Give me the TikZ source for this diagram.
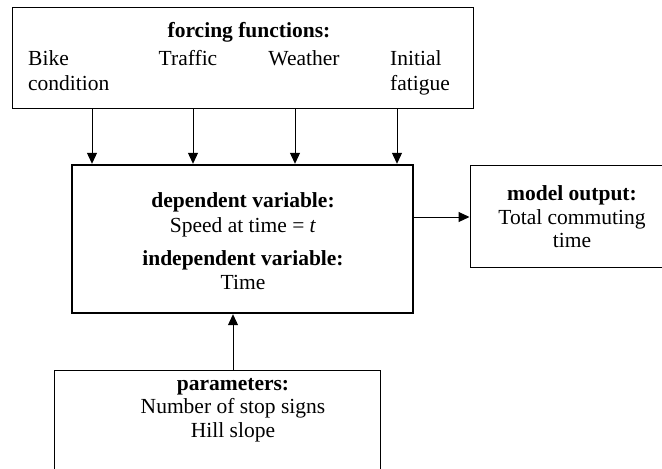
\documentclass[tikz,border=0pt]{standalone}
\usepackage{fontspec}
\setmainfont{Liberation Serif}
\usetikzlibrary{arrows.meta}
\begin{document}
\begin{tikzpicture}[x=1pt,y=-1pt,
  thinbox/.style={draw,line width=1pt,inner sep=0pt,rectangle},
  thickbox/.style={draw,line width=2.4pt,inner sep=0pt,rectangle},
  txt/.style={inner sep=0pt,anchor=base,font=\fontsize{21.5}{25}\selectfont},
  txtl/.style={txt,anchor=base west},
  arr/.style={line width=1pt,-{Triangle[width=10pt,length=11pt]}}]
\useasboundingbox (0,0) rectangle (662,469);
% boxes
\node[thinbox,minimum width=461pt,minimum height=101pt] (forcing) at (242.5,57.5) {};
\node[thickbox,minimum width=341pt,minimum height=148pt] (main) at (242.5,239) {};
\node[thinbox,minimum width=200pt,minimum height=102pt] (output) at (570,216) {};
\node[thinbox,minimum width=326pt,minimum height=120pt] (param) at (217,430) {};
% forcing texts
\node[txt] (ffh) at (249,37) {\textbf{forcing functions:}};
\node[txtl] (bike1) at (28,65) {Bike};
\node[txtl] (bike2) at (28,90) {condition};
\node[txt] (traffic) at (188,65) {Traffic};
\node[txt] (weather) at (304,65) {Weather};
\node[txtl] (init1) at (390,65) {Initial};
\node[txtl] (init2) at (390,90) {fatigue};
% main texts
\node[txt] (dvh) at (243,207) {\textbf{dependent variable:}};
\node[txt] (dv) at (243,232) {Speed at time = \textit{t}};
\node[txt] (ivh) at (243,265) {\textbf{independent variable:}};
\node[txt] (iv) at (243,289) {Time};
% output texts
\node[txt] (moh) at (572,200) {\textbf{model output:}};
\node[txt] (mo1) at (572,224) {Total commuting};
\node[txt] (mo2) at (572,247) {time};
% parameter texts
\node[txt] (ph) at (233,390) {\textbf{parameters:}};
\node[txt] (p1) at (233,413) {Number of stop signs};
\node[txt] (p2) at (233,437) {Hill slope};
% connectors
\coordinate (c1) at (92,108);
\coordinate (c2) at (193,108);
\coordinate (c3) at (295,108);
\coordinate (c4) at (397,108);
\foreach \c in {c1,c2,c3,c4}
  \draw[arr] (\c) -- (\c |- main.north);
\coordinate (r1) at (413,217);
\draw[arr] (main.east |- r1) -- (output.west |- r1);
\coordinate (b1) at (233,370);
\draw[arr] (param.north -| b1) -- (main.south -| b1);
\end{tikzpicture}
\end{document}
